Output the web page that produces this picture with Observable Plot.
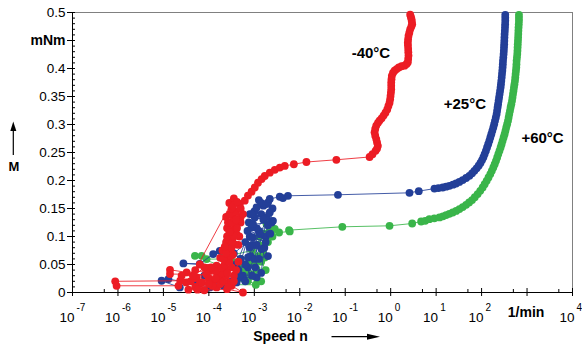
<!DOCTYPE html>
<html><head><meta charset="utf-8">
<script src="https://cdn.jsdelivr.net/npm/d3@7"></script>
<script src="https://cdn.jsdelivr.net/npm/@observablehq/plot@0.6"></script>
<style>body{margin:0;background:#fff}#chart svg{display:block}</style>
</head><body><div id="chart"></div>
<script>
// ---- data: log10(speed in 1/min) and torque M (mNm), in measurement order ----
const redLogN = [
  -4.67,-6.03,-6.06,-4.63,-4.27,-4.2,-3.9,-3.83,-4.1,-3.6,-3.25,-3.5,-3.98,-4.49,-4.855,-4.855,-4.05,-3.7,-4.4,-3.55,-3.8,-4.05,-3.83,-3.6,-3.45,
  -4.45,-4.3,-4.15,-4.0,-3.92,-3.75,-3.68,-3.62,-3.7,-3.85,-3.95,-3.5,-3.6,-4.35,-4.6,-4.5,-4.1,
  -4.25,-4.0,-3.85,-3.72,-3.58,-3.45,-3.4,-3.35,-3.7,-3.35,-3.62,-3.33,-3.6,-3.3,-3.62,-3.3,-3.55,-3.45,-4.3,-4.2,
  -3.65,-3.61,-3.55,-3.75,-3.68,-3.47,-3.52,-3.58,-3.62,-3.43,-3.5,-3.65,-3.55,-3.48,-3.6,-3.39,-3.45,-3.52,-3.55,-3.42,-3.38,-3.58,-3.5,-3.45,-3.4,-3.54,-3.4,-3.5,-3.465,-3.32,-3.25,-3.3,-3.38,
  -3.21,-3.14,-3.06,-2.99,-2.92,-2.84,-2.77,-2.66,-2.55,-2.44,-2.33,-2.13,-1.854,-1.195,
  -0.464,-0.40,-0.333,-0.30,-0.282,-0.30,-0.317,-0.34,-0.355,-0.34,-0.317,-0.28,-0.245,-0.20,-0.157,-0.115,-0.076,-0.05,-0.025,-0.012,-0.003,0.005,0.012,0.012,0.012,0.018,0.025,0.05,0.085,0.13,0.179,0.24,0.304,0.35,0.377,0.385,0.392,0.388,0.385,0.38,0.377,0.383,0.392,0.41,0.429,0.455,0.473,0.465,0.458,0.445,0.429];
const redM = [
  0.012,0.012,0.020,0.021,0.027,0.015,0.021,0.009,0.004,0.006,0.0,0.012,0.039,0.036,0.0405,0.033,0.032,0.025,0.02,0.018,0.03,0.042,0.048,0.04,0.03,
  0.005,0.01,0.018,0.025,0.012,0.015,0.02,0.03,0.035,0.038,0.045,0.045,0.035,0.03,0.03,0.018,0.045,
  0.005,0.015,0.025,0.045,0.01,0.02,0.04,0.055,0.075,0.085,0.09,0.1,0.115,0.125,0.135,0.135,0.16,0.168,0.04,0.05,
  0.05,0.057,0.055,0.062,0.06,0.068,0.065,0.075,0.07,0.086,0.08,0.082,0.095,0.09,0.1,0.104,0.1,0.112,0.108,0.12,0.115,0.125,0.125,0.133,0.13,0.14,0.145,0.15,0.155,0.158,0.14,0.15,0.162,
  0.164,0.173,0.18,0.1875,0.196,0.2025,0.208,0.214,0.219,0.223,0.226,0.229,0.233,0.237,
  0.242,0.247,0.253,0.257,0.262,0.268,0.274,0.280,0.286,0.292,0.298,0.303,0.307,0.311,0.316,0.321,0.327,0.333,0.339,0.345,0.351,0.357,0.363,0.369,0.375,0.381,0.387,0.392,0.396,0.399,0.402,0.404,0.405,0.408,0.411,0.417,0.423,0.429,0.435,0.441,0.446,0.452,0.458,0.464,0.470,0.475,0.479,0.484,0.488,0.492,0.496];

const blueLogN = [
  -4.64,-5.04,-4.89,-4.27,-3.98,-3.68,-3.39,-3.25,-3.32,-2.95,-3.14,-4.56,-4.2,-3.905,-3.76,-3.61,
  -3.05,-2.98,-3.2,-3.08,-2.95,-3.1,-2.9,-3.12,-2.85,-3.0,-2.8,-2.9,-3.35,-3.5,-3.9,-4.1,-3.3,-3.45,-2.7,-2.75,
  -2.85,-3.0,-2.7,-2.78,-3.05,-2.65,-2.95,-2.72,-3.1,-2.85,-3.4,-3.2,-2.6,
  -3.14,-3.2,-3.1,-2.84,-2.9,-3.03,-2.75,-2.88,-3.15,-3.06,-3.03,-2.62,-2.8,-2.99,-2.59,-2.66,-3.05,-2.95,-2.73,-2.697,-2.66,-2.44,-2.37,-2.26,-1.16,
  0.414,0.618,0.963,1.05,1.145,1.22,1.292,1.37,1.439,1.51,1.584,1.66,1.731,1.79,1.841,1.89,1.935,1.975,2.010,2.04,2.067,2.095,2.12,2.145,2.17,2.192,2.214,2.236,2.258,2.277,2.295,2.313,2.33,2.341,2.352,2.363,2.374,2.385,2.396,2.407,2.418,2.426,2.434,2.442,2.449,2.456,2.462,2.467,2.471,2.478,2.484,2.489,2.493,2.497,2.5,2.503,2.506,2.511,2.515,2.518,2.521,2.521,2.521];
const blueM = [
  0.009,0.021,0.024,0.015,0.009,0.012,0.018,0.03,0.027,0.027,0.045,0.052,0.051,0.0686,0.0745,0.0893,
  0.03,0.045,0.05,0.065,0.085,0.1,0.11,0.125,0.14,0.145,0.155,0.165,0.04,0.02,0.02,0.03,0.06,0.07,0.12,0.1,
  0.035,0.06,0.065,0.08,0.085,0.105,0.115,0.135,0.14,0.16,0.05,0.02,0.15,
  0.0625,0.09,0.0804,0.0775,0.06,0.0982,0.09,0.104,0.11,0.116,0.122,0.125,0.13,0.134,0.128,0.143,0.14,0.152,0.158,0.161,0.167,0.171,0.1686,0.1727,0.1745,
  0.178,0.181,0.1855,0.1865,0.1875,0.189,0.1905,0.1925,0.1946,0.1975,0.2007,0.2045,0.2084,0.2128,0.2173,0.2218,0.2263,0.2313,0.2364,0.2417,0.2471,0.253,0.2589,0.2649,0.2709,0.2768,0.2828,0.2887,0.2946,0.3006,0.3066,0.3126,0.3186,0.3245,0.3304,0.3363,0.3423,0.3483,0.3543,0.3602,0.3661,0.372,0.378,0.384,0.39,0.396,0.4018,0.4077,0.4137,0.4197,0.4257,0.4316,0.4375,0.4435,0.4495,0.4555,0.4614,0.4673,0.4732,0.4792,0.4852,0.4905,0.4959];

const greenLogN = [
  -3.6,-2.967,-3.14,-3.06,-3.03,-3.17,-2.95,-3.1,
  -3.2,-3.0,-2.85,-3.3,-3.5,-3.7,-3.05,-2.7,-2.9,-2.78,-3.25,
  -2.75,-2.9,-2.6,-3.4,-2.85,
  -4.306,-4.16,-4.05,-3.3,-2.77,-2.81,-2.9,-2.73,-2.66,-2.73,-2.55,-2.455,-2.221,-2.236,-1.064,-0.025,
  0.473,0.67,0.76,0.85,0.96,1.073,1.15,
  1.219,1.29,1.365,1.44,1.512,1.585,1.659,1.725,1.79,1.85,1.913,1.97,2.023,2.067,2.111,2.152,2.192,2.225,2.258,2.288,2.317,2.343,2.368,2.393,2.418,2.44,2.462,2.484,2.506,2.525,2.543,2.562,2.581,2.595,2.609,2.624,2.638,2.654,2.669,2.68,2.691,2.702,2.712,2.723,2.734,2.741,2.748,2.756,2.763,2.767,2.77,2.778,2.785,2.789,2.792,2.796,2.80,2.804,2.807,2.81,2.813,2.818,2.822,2.822,2.822];
const greenM = [
  0.014,0.0138,0.0209,0.0329,0.0298,0.0477,0.0418,0.0566,
  0.035,0.05,0.055,0.045,0.055,0.063,0.075,0.09,0.1,0.105,0.025,
  0.04,0.065,0.1,0.03,0.02,
  0.0655,0.0655,0.0596,0.06,0.0625,0.0745,0.085,0.0936,0.1104,0.122,0.1134,0.1071,0.109,0.1114,0.1173,0.1191,
  0.1232,0.1268,0.128,0.131,0.1325,0.134,0.136,
  0.1382,0.1405,0.1429,0.1457,0.1489,0.1525,0.1566,0.1608,0.165,0.1702,0.1757,0.1815,0.1875,0.1935,0.1995,0.2055,0.2114,0.2173,0.2232,0.2292,0.2352,0.2411,0.2471,0.253,0.2589,0.2649,0.2709,0.2768,0.2828,0.2887,0.2946,0.3006,0.3066,0.3126,0.3186,0.3245,0.3304,0.3363,0.3423,0.3483,0.3543,0.3602,0.3661,0.372,0.378,0.384,0.39,0.396,0.4018,0.4077,0.4137,0.4197,0.4257,0.4316,0.4375,0.4435,0.4495,0.4555,0.4614,0.4673,0.4732,0.4792,0.4852,0.4905,0.4959];

const seriesNames = ["-40°C", "+25°C", "+60°C"];
const seriesColors = ["#ec1c24", "#233f98", "#3ab54a"];

const xTickExps = ["-7","-6","-5","-4","-3","-2","-1","0","1","2","4"];
const xTickValues = [1e-7,1e-6,1e-5,1e-4,1e-3,1e-2,1e-1,1e0,1e1,1e2,1e4];
const xUnitValue = 1e3, xUnitLabel = "1/min";
const xMinor = [5e-7,5e-6,5e-5,5e-4,5e-3,5e-2,5e-1,5e0,5e1,5e2,5e3];
const yTickValues = [0,0.05,0.1,0.15,0.2,0.25,0.3,0.35,0.4,0.5];
const yTickLabels = ["0","0.05","0.1","0.15","0.2","0.25","0.3","0.35","0.4","0.5"];
const yUnitValue = 0.45, yUnitLabel = "mNm";
const yMinor = [0.01,0.02,0.03,0.04,0.06,0.07,0.08,0.09,0.11,0.12,0.13,0.14,0.16,0.17,0.18,0.19,0.21,0.22,0.23,0.24,0.26,0.27,0.28,0.29,0.31,0.32,0.33,0.34,0.36,0.37,0.38,0.39,0.41,0.42,0.43,0.44,0.46,0.47,0.48,0.49];
const xTitle = "Speed n", yTitle = "M";

const mk = (ln, m) => ln.map((v, i) => ({n: 10 ** v, m: m[i]}));
const series = [mk(redLogN, redM), mk(blueLogN, blueM), mk(greenLogN, greenM)];

const font = "'Liberation Sans', Arial, Helvetica, sans-serif";
const FW = 500, FH = 280; // frame size in px

const seriesMarks = [];
for (const i of [2, 1, 0]) {
  seriesMarks.push(Plot.line(series[i], {x: "n", y: "m", stroke: seriesColors[i], strokeWidth: 1, strokeOpacity: 0.85}));
  seriesMarks.push(Plot.dot(series[i], {x: "n", y: "m", r: 3.9, fill: seriesColors[i], stroke: "none"}));
}

const labelPos = [{x: 10 ** -0.435, y: 0.428}, {x: 10 ** 1.632, y: 0.336}, {x: 10 ** 3.341, y: 0.276}];

const chart = Plot.plot({
  width: 582, height: 349,
  marginLeft: 72, marginRight: 10, marginTop: 12, marginBottom: 57,
  x: {type: "log", domain: [1e-7, 1e4], axis: null},
  y: {domain: [0, 0.5], axis: null},
  style: {fontFamily: font, fontSize: "13px", color: "#000", background: "#fff", overflow: "visible"},
  marks: [
    Plot.frame({stroke: "#808080"}),
    Plot.ruleX([1e-7], {stroke: "#000"}),
    Plot.ruleY([0], {stroke: "#000"}),
    Plot.tickX(xTickValues.concat([xUnitValue]), {x: d => d, stroke: "#000", insetTop: FH - 4, insetBottom: -4}),
    Plot.tickX(xMinor, {x: d => d, stroke: "#000", insetTop: FH - 3, insetBottom: 0}),
    Plot.tickY(yTickValues.concat([yUnitValue]), {y: d => d, stroke: "#000", insetLeft: -5, insetRight: FW - 3}),
    Plot.tickY(yMinor, {y: d => d, stroke: "#000", insetLeft: 0, insetRight: FW - 3}),
    ...seriesMarks,
    Plot.text(yTickValues, {y: d => d, text: (d, i) => yTickLabels[i], frameAnchor: "left", textAnchor: "end", dx: -7, fontSize: 13.5, fill: "#000"}),
    Plot.text([yUnitValue], {y: d => d, text: () => yUnitLabel, frameAnchor: "left", textAnchor: "end", dx: -7, fontSize: 14, fontWeight: "bold", fill: "#000"}),
    Plot.text(xTickValues, {x: d => d, text: () => "10", frameAnchor: "bottom", lineAnchor: "bottom", textAnchor: "end", dx: 2, dy: 29, fontSize: 13.5, fill: "#000"}),
    Plot.text(xTickValues, {x: d => d, text: (d, i) => xTickExps[i], frameAnchor: "bottom", lineAnchor: "bottom", textAnchor: "start", dx: 4, dy: 18, fontSize: 10, fill: "#000"}),
    Plot.text([xUnitValue], {x: d => d, text: () => xUnitLabel, frameAnchor: "bottom", lineAnchor: "bottom", textAnchor: "middle", dx: -1, dy: 24, fontSize: 14, fontWeight: "bold", fill: "#000"}),
    Plot.text([xTitle], {text: d => d, frameAnchor: "bottom", lineAnchor: "bottom", textAnchor: "middle", dx: -42, dy: 48, fontSize: 14, fontWeight: "bold", fill: "#000"}),
    Plot.text([yTitle], {text: d => d, frameAnchor: "left", lineAnchor: "bottom", textAnchor: "middle", dx: -58.7, dy: 18, fontSize: 13, fontWeight: "bold", fill: "#000"}),
    Plot.text(seriesNames, {x: (d, i) => labelPos[i].x, y: (d, i) => labelPos[i].y, text: d => d, textAnchor: "middle", fontSize: 15, fontWeight: "bold", fill: "#000"})
  ]
});
document.getElementById("chart").appendChild(chart);

// axis-title arrows (decoration)
const svg = d3.select(chart);
svg.append("line").attr("x1", 13.3).attr("y1", 155).attr("x2", 13.3).attr("y2", 130).attr("stroke", "#000").attr("stroke-width", 1.2);
svg.append("path").attr("d", "M10.3,131 L13.3,121.5 L16.3,131 Z").attr("fill", "#000");
svg.append("line").attr("x1", 331.5).attr("y1", 336.7).attr("x2", 368).attr("y2", 336.7).attr("stroke", "#000").attr("stroke-width", 1.2);
svg.append("path").attr("d", "M367,333.7 L380,336.7 L367,339.7 Z").attr("fill", "#000");
</script>
</body></html>
